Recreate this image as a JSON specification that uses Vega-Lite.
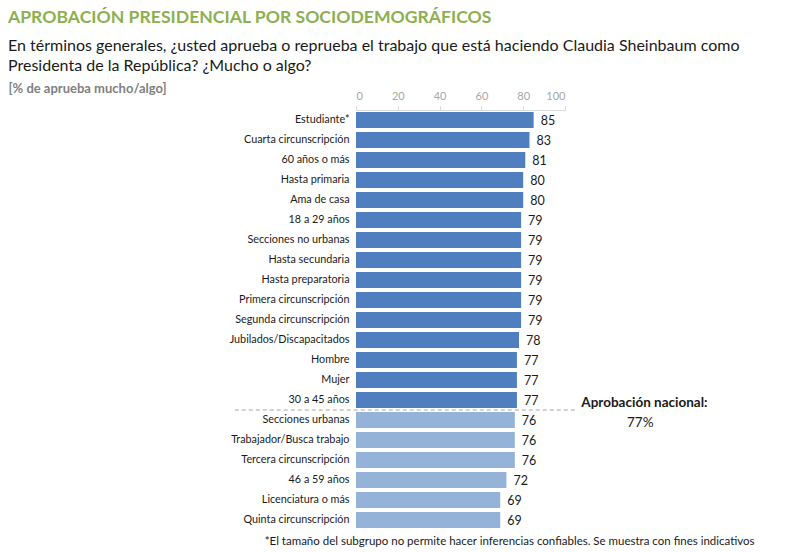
{
  "$schema": "https://vega.github.io/schema/vega-lite/v6.json",
  "autosize": {"type": "none"},
  "width": 209,
  "height": 420,
  "padding": {"left": 356, "top": 110, "right": 235, "bottom": 22},
  "background": "white",
  "config": {"view": {"stroke": null}, "font": "Lato"},
  "title": {
    "text": "APROBACIÓN PRESIDENCIAL POR SOCIODEMOGRÁFICOS",
    "subtitle": ["En términos generales, ¿usted aprueba o reprueba el trabajo que está haciendo Claudia Sheinbaum como", "Presidenta de la República? ¿Mucho o algo?"],
    "anchor": "start",
    "frame": "group",
    "dx": -348,
    "dy": -4,
    "font": "Lato",
    "fontSize": 17.6,
    "fontWeight": "bold",
    "color": "#8DB04F",
    "subtitleFont": "Lato",
    "subtitleFontSize": 16,
    "subtitleColor": "#1a1a1a",
    "subtitleLineHeight": 20,
    "subtitlePadding": 11
  },
  "data": {
    "values": [
      {"grupo": "Estudiante*", "valor": 85, "tipo": "arriba"},
      {"grupo": "Cuarta circunscripción", "valor": 83, "tipo": "arriba"},
      {"grupo": "60 años o más", "valor": 81, "tipo": "arriba"},
      {"grupo": "Hasta primaria", "valor": 80, "tipo": "arriba"},
      {"grupo": "Ama de casa", "valor": 80, "tipo": "arriba"},
      {"grupo": "18 a 29 años", "valor": 79, "tipo": "arriba"},
      {"grupo": "Secciones no urbanas", "valor": 79, "tipo": "arriba"},
      {"grupo": "Hasta secundaria", "valor": 79, "tipo": "arriba"},
      {"grupo": "Hasta preparatoria", "valor": 79, "tipo": "arriba"},
      {"grupo": "Primera circunscripción", "valor": 79, "tipo": "arriba"},
      {"grupo": "Segunda circunscripción", "valor": 79, "tipo": "arriba"},
      {"grupo": "Jubilados/Discapacitados", "valor": 78, "tipo": "arriba"},
      {"grupo": "Hombre", "valor": 77, "tipo": "arriba"},
      {"grupo": "Mujer", "valor": 77, "tipo": "arriba"},
      {"grupo": "30 a 45 años", "valor": 77, "tipo": "arriba"},
      {"grupo": "Secciones urbanas", "valor": 76, "tipo": "abajo"},
      {"grupo": "Trabajador/Busca trabajo", "valor": 76, "tipo": "abajo"},
      {"grupo": "Tercera circunscripción", "valor": 76, "tipo": "abajo"},
      {"grupo": "46 a 59 años", "valor": 72, "tipo": "abajo"},
      {"grupo": "Licenciatura o más", "valor": 69, "tipo": "abajo"},
      {"grupo": "Quinta circunscripción", "valor": 69, "tipo": "abajo"}
    ]
  },
  "encoding": {
    "y": {
      "field": "grupo",
      "type": "nominal",
      "sort": null,
      "scale": {"paddingInner": 0.2, "paddingOuter": 0.1},
      "axis": {"title": null, "domain": false, "ticks": false, "labelPadding": 7, "labelFontSize": 10.8, "labelColor": "#1a1a1a", "labelFont": "Lato"}
    }
  },
  "layer": [
    {
      "mark": {"type": "bar"},
      "encoding": {
        "x": {
          "field": "valor",
          "type": "quantitative",
          "scale": {"domain": [0, 100], "nice": false},
          "axis": {
            "orient": "top",
            "values": [0, 20, 40, 60, 80, 100],
            "grid": false,
            "domainColor": "#d9d9d9",
            "tickColor": "#d9d9d9",
            "tickSize": 4,
            "labelColor": "#a6a6a6",
            "labelFontSize": 11,
            "labelPadding": 5,
            "title": "[% de aprueba mucho/algo]",
            "titleX": -348,
            "titleY": -22,
            "titleAlign": "left",
            "titleAnchor": null,
            "titleBaseline": "middle",
            "titleColor": "#7f7f7f",
            "titleFontSize": 13,
            "titleFontWeight": "bold",
            "titleFont": "Lato"
          }
        },
        "color": {
          "field": "tipo",
          "type": "nominal",
          "scale": {"domain": ["arriba", "abajo"], "range": ["#4F7FBE", "#95B3D9"]},
          "legend": null
        }
      }
    },
    {
      "mark": {"type": "text", "align": "left", "dx": 7, "dy": 1, "fontSize": 12.5, "color": "#1a1a1a", "font": "Lato"},
      "encoding": {
        "x": {"field": "valor", "type": "quantitative"},
        "text": {"field": "valor", "type": "quantitative"}
      }
    },
    {
      "data": {"values": [{}]},
      "mark": {"type": "rule", "strokeDash": [4, 3], "color": "#a6a6a6", "strokeWidth": 1},
      "encoding": {
        "x": {"datum": -58},
        "x2": {"datum": 105},
        "y": {"datum": "Secciones urbanas", "bandPosition": 0},
        "yOffset": {"value": -2}
      }
    },
    {
      "data": {"values": [{}]},
      "mark": {"type": "text", "fontSize": 13.5, "fontWeight": "bold", "color": "#1a1a1a", "font": "Lato", "clip": false, "dy": 3},
      "encoding": {
        "x": {"datum": 138},
        "y": {"datum": "30 a 45 años"},
        "text": {"value": "Aprobación nacional:"}
      }
    },
    {
      "data": {"values": [{}]},
      "mark": {"type": "text", "fontSize": 13.5, "color": "#1a1a1a", "font": "Lato", "clip": false, "dy": 3},
      "encoding": {
        "x": {"datum": 136},
        "y": {"datum": "Secciones urbanas"},
        "text": {"value": "77%"}
      }
    },
    {
      "data": {"values": [{}]},
      "mark": {"type": "text", "fontSize": 11.5, "color": "#1a1a1a", "font": "Lato", "clip": false, "dy": 22},
      "encoding": {
        "x": {"datum": 73.5},
        "y": {"datum": "Quinta circunscripción"},
        "text": {"value": "*El tamaño del subgrupo no permite hacer inferencias confiables. Se muestra con fines indicativos"}
      }
    }
  ]
}
